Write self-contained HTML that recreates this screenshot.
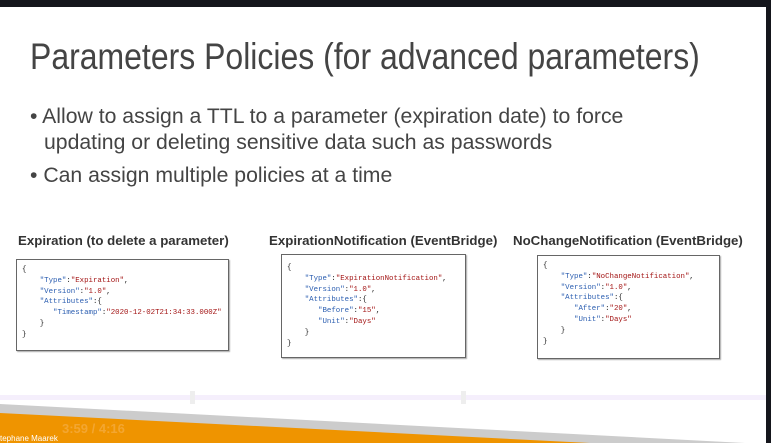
<!DOCTYPE html>
<html><head><meta charset="utf-8"><style>
html,body{margin:0;padding:0}
body{width:771px;height:443px;position:relative;overflow:hidden;background:#fff;font-family:"Liberation Sans",sans-serif}
.a{position:absolute;white-space:nowrap}
.title{left:30px;top:36px;font-size:37px;color:#444;transform-origin:0 0;transform:scaleX(0.864);font-weight:300}
.b{font-size:21px;color:#444;transform-origin:0 0;transform:scaleX(1.01)}
.h{font-size:13px;font-weight:bold;color:#333;transform-origin:0 0;transform:scaleX(1.02)}
.box{position:absolute;border:1px solid #666;box-shadow:1px 1px 1px #aaa;background:#fff}
pre{margin:0;position:absolute;font-family:"Liberation Mono",monospace;font-size:7.4px;line-height:10.8px;color:#222}
.k{color:#2a5db0}.s{color:#a31515}
</style></head><body>
<div class="a" style="left:0;top:0;width:771px;height:7px;background:#15161c"></div>
<div class="a" style="left:766px;top:0;width:5px;height:443px;background:#15161c"></div>
<div class="a title">Parameters Policies (for advanced parameters)</div>
<div class="a b" style="left:30px;top:105px">• Allow to assign a TTL to a parameter (expiration date) to force</div>
<div class="a b" style="left:44px;top:131px">updating or deleting sensitive data such as passwords</div>
<div class="a b" style="left:30px;top:164px">• Can assign multiple policies at a time</div>

<div class="a h" style="left:18px;top:233px">Expiration (to delete a parameter)</div>
<div class="box" style="left:16px;top:259px;width:211px;height:90px">
<pre style="left:5px;top:5px">{
    <span class="k">"Type"</span>:<span class="s">"Expiration"</span>,
    <span class="k">"Version"</span>:<span class="s">"1.0"</span>,
    <span class="k">"Attributes"</span>:{
       <span class="k">"Timestamp"</span>:<span class="s">"2020-12-02T21:34:33.000Z"</span>
    }
}</pre></div>

<div class="a h" style="left:269px;top:233px">ExpirationNotification (EventBridge)</div>
<div class="box" style="left:281px;top:254px;width:183px;height:102px">
<pre style="left:5px;top:8px">{
    <span class="k">"Type"</span>:<span class="s">"ExpirationNotification"</span>,
    <span class="k">"Version"</span>:<span class="s">"1.0"</span>,
    <span class="k">"Attributes"</span>:{
       <span class="k">"Before"</span>:<span class="s">"15"</span>,
       <span class="k">"Unit"</span>:<span class="s">"Days"</span>
    }
}</pre></div>

<div class="a h" style="left:513px;top:233px">NoChangeNotification (EventBridge)</div>
<div class="box" style="left:537px;top:255px;width:181px;height:102px">
<pre style="left:5px;top:5px">{
    <span class="k">"Type"</span>:<span class="s">"NoChangeNotification"</span>,
    <span class="k">"Version"</span>:<span class="s">"1.0"</span>,
    <span class="k">"Attributes"</span>:{
       <span class="k">"After"</span>:<span class="s">"20"</span>,
       <span class="k">"Unit"</span>:<span class="s">"Days"</span>
    }
}</pre></div>

<div class="a" style="left:0;top:395px;width:766px;height:5px;background:#f5effc"></div>
<div class="a" style="left:190px;top:391px;width:5px;height:13px;background:#eeeeee"></div>
<div class="a" style="left:461px;top:391px;width:5px;height:13px;background:#eeeeee"></div>
<svg class="a" style="left:0;top:0" width="771" height="443">
<polygon points="0,404 745,443 0,443" fill="#cccccc"/>
<polygon points="0,413 590,443 0,443" fill="#ef9400"/>
</svg>
<div class="a" style="left:62px;top:421px;font-size:13px;font-weight:bold;color:#f3a631">3:59 / 4:16</div>
<div class="a" style="left:0;top:434px;font-size:8px;color:#fff">tephane Maarek</div>
</body></html>
